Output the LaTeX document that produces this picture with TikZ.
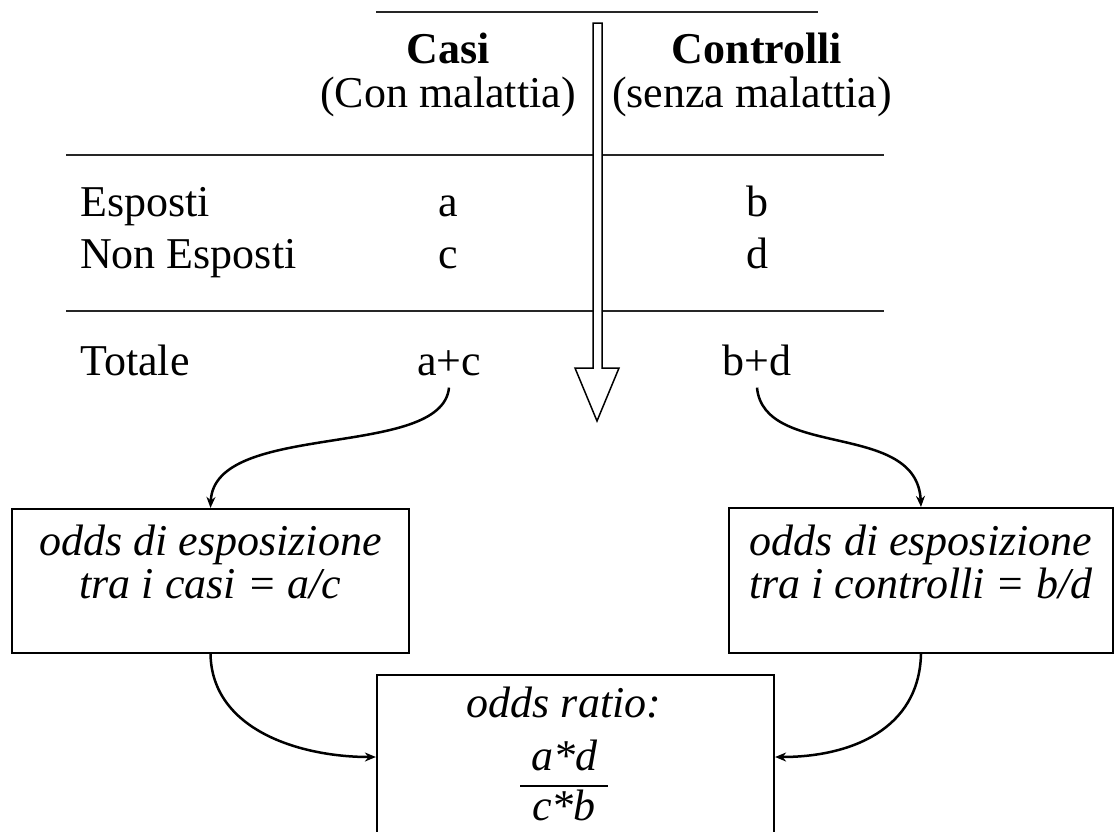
\documentclass[tikz,border=0pt]{standalone}
\usepackage{fontspec}
\setmainfont{Liberation Serif}
\usetikzlibrary{arrows.meta}
\tikzset{
  txt/.style={inner sep=0pt, anchor=base, font=\fontsize{44}{44}\selectfont},
  btxt/.style={txt, font=\fontsize{44}{44}\selectfont\bfseries},
  itxt/.style={txt, font=\fontsize{44}{44}\selectfont\itshape},
  rule/.style={line width=1.8pt, draw=black!85},
  box/.style={draw, line width=2.2pt, rectangle, inner sep=0pt},
  arr/.style={line width=2.5pt, -{Stealth[length=11pt, width=9pt]}},
  hollow/.style={draw, line width=1.5pt, fill=white}
}
\begin{document}
\begin{tikzpicture}[x=1pt, y=-1pt]
\useasboundingbox (0,0) rectangle (1117,831);

% table rules
\draw[rule] (376,12) -- (818,12);
\draw[rule] (66,155) -- (884,155);
\draw[rule] (66,311) -- (884,311);

% hollow down arrow
\draw[hollow] (593,23) -- (602,23) -- (602,368) -- (619,368) -- (597,421)
  -- (575,368) -- (593,368) -- cycle;

% header
\node[btxt] (casi) at (448,63) {Casi};
\node[txt] (conm) at (448,107) {(Con malattia)};
\node[btxt] (contr) at (757,63) {Controlli};
\node[txt] (senzam) at (752,107) {(senza malattia)};

% rows
\node[txt, anchor=base west] (esp) at (80,216) {Esposti};
\node[txt, anchor=base west] (nonesp) at (80,268) {Non Esposti};
\node[txt, anchor=base west] (tot) at (80,375) {Totale};
\node[txt] (a) at (448,216) {a};
\node[txt] (c) at (448,268) {c};
\node[txt] (b) at (757,216) {b};
\node[txt] (d) at (757,268) {d};
\node[txt] (ac) at (449,375) {a+c};
\node[txt] (bd) at (757,375) {b+d};

% boxes
\node[box, minimum width=397pt, minimum height=144pt] (lbox) at (210.5,581) {};
\node[itxt] (l1) at (210.5,555) {odds di esposizione};
\node[itxt] (l2) at (210.5,598) {tra i casi = a/c};
\node[box, minimum width=384pt, minimum height=145pt] (rbox) at (921,580.5) {};
\node[itxt] (r1) at (921,555) {odds di esposizione};
\node[itxt] (r2) at (921,598) {tra i controlli = b/d};

% odds ratio box (cut off at the bottom)
\node[box, minimum width=397pt, minimum height=164pt] (orbox) at (575.5,757) {};
\node[itxt] (ortitle) at (564,717) {odds ratio:};
\node[itxt] (num) at (564,770) {a*d};
\node[itxt] (den) at (564,820) {c*b};
\draw[line width=1.8pt] (520,786) -- (608,786);

% connectors
\draw[arr] ([yshift=-12pt]ac.south) .. controls (442,460) and (214,420) .. (lbox.north);
\draw[arr] ([yshift=-12pt]bd.south) .. controls (764,460) and (917,420) .. (rbox.north);
\draw[arr] (lbox.south) .. controls (212,730) and (300,757) .. (orbox.west);
\draw[arr] (rbox.south) .. controls (919,730) and (850,757) .. (orbox.east);
\end{tikzpicture}
\end{document}
